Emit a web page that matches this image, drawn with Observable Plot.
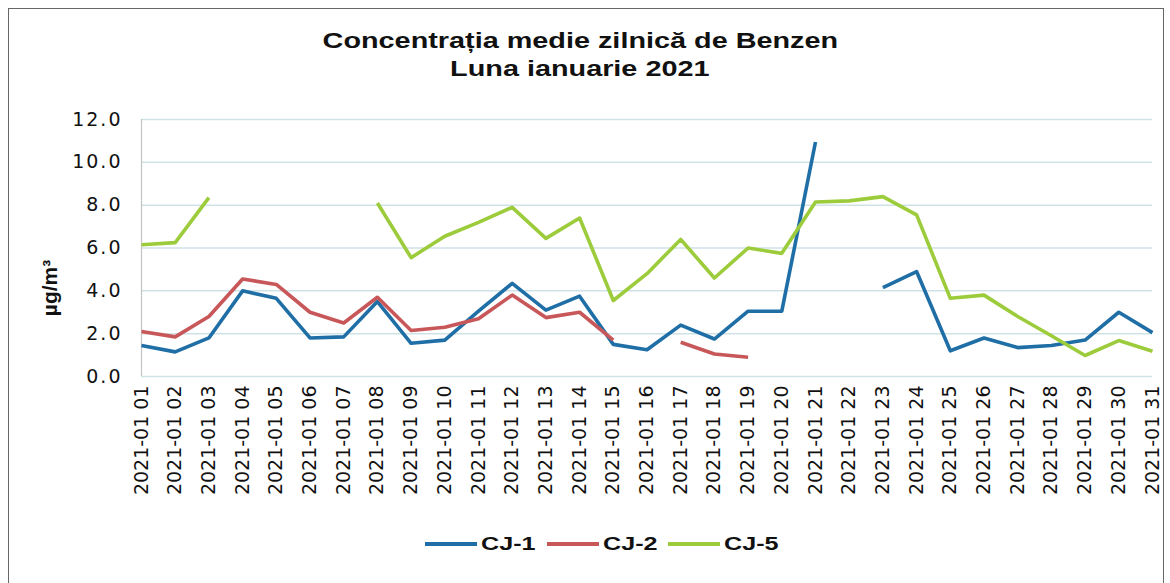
<!DOCTYPE html>
<html>
<head>
<meta charset="utf-8">
<script src="https://cdn.jsdelivr.net/npm/d3@7"></script>
<script src="https://cdn.jsdelivr.net/npm/@observablehq/plot@0.6"></script>
<style>
  html, body { margin: 0; padding: 0; background: #fff; }
  #wrap { position: relative; width: 1170px; height: 583px; overflow: hidden; background: #fff; }
  #frame { position: absolute; left: 8px; top: 8px; width: 1156px; height: 600px; border: 1.5px solid #666; box-sizing: border-box; }
  #chart { position: absolute; left: 0; top: 0; }
  .title { position: absolute; left: 0; width: 1160px; text-align: center; font-family: "Liberation Sans", Arial, sans-serif; font-weight: bold; font-size: 21.5px; color: #111; }
  .title span { display: inline-block; transform: scaleX(1.34); }
  #ylab { position: absolute; left: 50px; top: 288px; transform: translate(-50%, -50%) rotate(-90deg); font-family: "Liberation Sans", Arial, sans-serif; font-weight: bold; font-size: 21px; color: #111; white-space: nowrap; }
  .leg { position: absolute; top: 532px; height: 24px; }
  .leg .sw { position: absolute; left: 0; top: 10px; width: 52px; height: 4px; }
  .leg .lt { position: absolute; left: 56px; top: 0; font-family: "Liberation Sans", Arial, sans-serif; font-weight: bold; font-size: 18.5px; line-height: 24px; color: #111; transform: scaleX(1.36); transform-origin: left center; white-space: nowrap; }
  g[aria-label="y-axis tick label"] text { letter-spacing: 2px; }
</style>
</head>
<body>
<div id="wrap">
  <div id="frame"></div>
  <div id="chart"></div>
  <div class="title" style="top:29px"><span>Concentrația medie zilnică de Benzen</span></div>
  <div class="title" style="top:57px"><span>Luna ianuarie 2021</span></div>
  <div id="ylab">µg/m³</div>
  <div id="legend"></div>
</div>
<script>
const dates = [
  "2021-01 01","2021-01 02","2021-01 03","2021-01 04","2021-01 05","2021-01 06","2021-01 07",
  "2021-01 08","2021-01 09","2021-01 10","2021-01 11","2021-01 12","2021-01 13","2021-01 14",
  "2021-01 15","2021-01 16","2021-01 17","2021-01 18","2021-01 19","2021-01 20","2021-01 21",
  "2021-01 22","2021-01 23","2021-01 24","2021-01 25","2021-01 26","2021-01 27","2021-01 28",
  "2021-01 29","2021-01 30","2021-01 31"
];
const cj1 = [1.45,1.15,1.8,4.0,3.65,1.8,1.85,3.5,1.55,1.7,3.05,4.35,3.1,3.75,1.5,1.25,2.4,1.75,3.05,3.05,10.95,null,4.15,4.9,1.2,1.8,1.35,1.45,1.7,3.0,2.05];
const cj2 = [2.1,1.85,2.8,4.55,4.3,3.0,2.5,3.7,2.15,2.3,2.7,3.8,2.75,3.0,1.7,null,1.6,1.05,0.9,null,null,null,null,null,null,null,null,null,null,null,null];
const cj5 = [6.15,6.25,8.35,null,null,null,null,8.1,5.55,6.55,7.2,7.9,6.45,7.4,3.55,4.8,6.4,4.6,6.0,5.75,8.15,8.2,8.4,7.55,3.65,3.8,2.8,1.9,0.98,1.68,1.18];
const seriesNames = ["CJ-1","CJ-2","CJ-5"];
const seriesColors = ["#1f6fa6","#c8575a","#9ccc3c"];
const yTicks = [0,2,4,6,8,10,12];

const seriesValues = [cj1, cj2, cj5];
const rows = [];
seriesNames.forEach((name, s) => {
  dates.forEach((d, i) => rows.push({date: d, series: name, value: seriesValues[s][i]}));
});

const chart = Plot.plot({
  width: 1170,
  height: 520,
  marginTop: 119,
  marginBottom: 144,
  marginLeft: 141,
  marginRight: 18,
  style: {fontFamily: "DejaVu Sans", fontSize: "19px", color: "#111", background: "transparent"},
  x: {type: "point", domain: dates, padding: 0, round: false, label: null},
  y: {domain: [0, 12], label: null},
  color: {domain: seriesNames, range: seriesColors},
  marks: [
    Plot.gridY(yTicks, {stroke: "#cfe2e6", strokeOpacity: 1, strokeWidth: 1.5}),
    Plot.ruleX([dates[0]], {stroke: "#c4c4c4", strokeWidth: 1.2}),
    Plot.axisY({ticks: yTicks, tickFormat: d => d.toFixed(1), tickSize: 0, tickPadding: 19, fontSize: 19, label: null}),
    Plot.axisX({tickRotate: -90, tickSize: 0, tickPadding: 9, fontSize: 19, label: null}),
    Plot.line(rows, {x: "date", y: "value", z: "series", stroke: "series", strokeWidth: 3.6, strokeLinejoin: "round", strokeLinecap: "butt"})
  ]
});
document.getElementById("chart").appendChild(chart);

const legend = document.getElementById("legend");
seriesNames.forEach((name, i) => {
  const item = document.createElement("div");
  item.className = "leg";
  item.style.left = (425 + i * 121.5) + "px";
  const sw = document.createElement("div");
  sw.className = "sw";
  sw.style.background = seriesColors[i];
  const lt = document.createElement("div");
  lt.className = "lt";
  lt.textContent = name;
  item.appendChild(sw);
  item.appendChild(lt);
  legend.appendChild(item);
});
</script>
</body>
</html>
